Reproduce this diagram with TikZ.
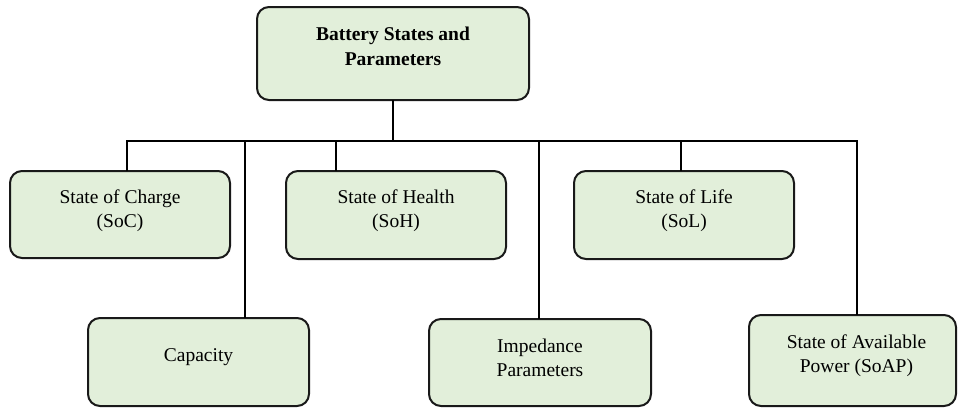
\documentclass[tikz,border=0pt]{standalone}
\usepackage{fontspec}
\setmainfont{Liberation Serif}
\definecolor{boxfill}{RGB}{226,239,218}
\definecolor{boxline}{RGB}{25,25,25}
\begin{document}
\begin{tikzpicture}[x=1pt,y=1pt,
  box/.style={draw=boxline, line width=2pt, fill=boxfill, rounded corners=12pt,
              inner sep=0pt, outer sep=0pt},
  txt/.style={align=center, font=\fontsize{19.5}{24}\selectfont, inner sep=0pt},
  conn/.style={draw=black, line width=2.6pt}]
\useasboundingbox (0,0) rectangle (958,-407);
% boxes
\node[box, minimum width=272pt, minimum height=93pt,
      label={[txt, font=\fontsize{19.5}{25}\selectfont\bfseries, yshift=7pt]center:Battery States and\\Parameters}] (top) at (393,-53.5) {};
\node[box, minimum width=220pt, minimum height=87pt,
      label={[txt, yshift=4pt]center:State of Charge\\(SoC)}] (soc) at (120,-214.5) {};
\node[box, minimum width=220pt, minimum height=88pt,
      label={[txt, yshift=4pt]center:State of Health\\(SoH)}] (soh) at (396,-215) {};
\node[box, minimum width=220pt, minimum height=88pt,
      label={[txt, yshift=4pt]center:State of Life\\(SoL)}] (sol) at (684,-215) {};
\node[box, minimum width=221pt, minimum height=88pt,
      label={[txt, yshift=5pt]center:Capacity}] (cap) at (198.5,-362) {};
\node[box, minimum width=222pt, minimum height=87pt,
      label={[txt, yshift=5pt]center:Impedance\\Parameters}] (imp) at (540,-362.5) {};
\node[box, minimum width=207pt, minimum height=91pt,
      label={[txt, xshift=4pt, yshift=5pt]center:State of Available\\Power (SoAP)}] (soap) at (852.5,-360.5) {};
% bus coordinates
\coordinate (bL) at (127,-141);
\coordinate (bR) at (857,-141);
\coordinate (bT) at (393,-141);
\coordinate (bCap) at (245,-141);
\coordinate (bSoh) at (336,-141);
\coordinate (bImp) at (539,-141);
\coordinate (bSol) at (681,-141);
% connectors
\draw[conn] (top.south) -- (bT);
\draw[conn, line join=miter] (soc.north -| bL) -- (bL) -- (bR) -- (soap.north -| bR);
\draw[conn] (bCap) -- (cap.north -| bCap);
\draw[conn] (bSoh) -- (soh.north -| bSoh);
\draw[conn] (bImp) -- (imp.north -| bImp);
\draw[conn] (bSol) -- (sol.north -| bSol);
\end{tikzpicture}
\end{document}
